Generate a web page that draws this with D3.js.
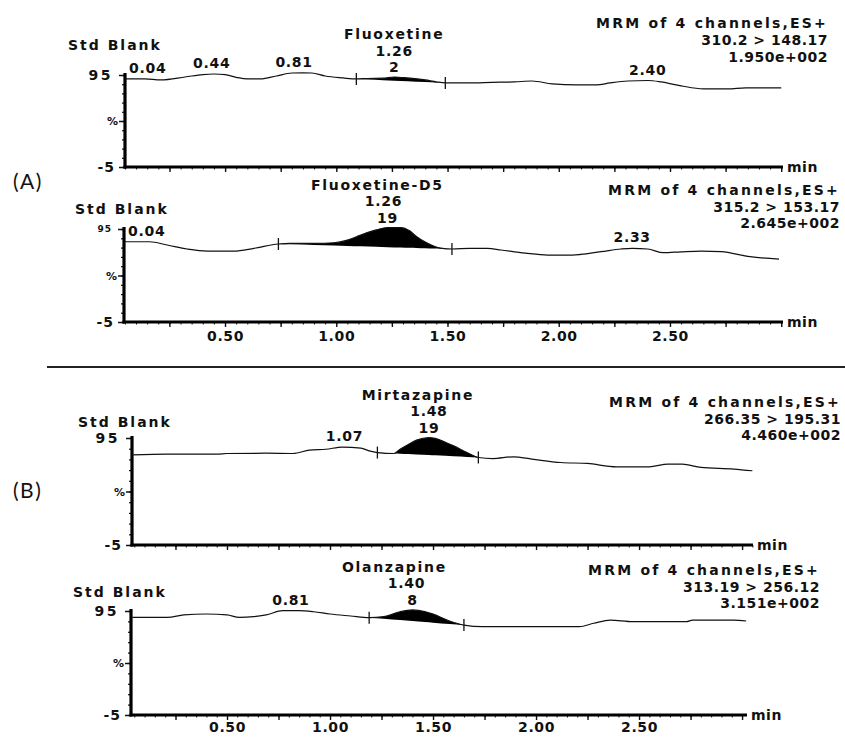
<!DOCTYPE html>
<html><head><meta charset="utf-8">
<script src="https://cdn.jsdelivr.net/npm/d3@7"></script>
<style>body{margin:0;background:#fff}svg{display:block}</style>
</head><body><svg id="chart" width="845" height="737"></svg>
<script>
// ---------- DATA ----------
const fluoxetineTime = [0.05,0.14,0.21,0.32,0.40,0.45,0.50,0.55,0.60,0.66,0.73,0.80,0.85,0.89,0.95,1.03,1.09,1.14,1.21,1.26,1.32,1.40,1.45,1.49,1.60,1.70,1.80,1.88,1.97,2.08,2.17,2.23,2.31,2.40,2.46,2.55,2.65,2.76,2.84,3.00];
const fluoxetineIntensity = [90.7,90.7,89.6,92.8,95.5,96.1,95.5,92.5,90.7,90.7,93.9,97.2,97.4,97.2,93.9,91.8,90.7,91.2,91.5,92.8,91.8,89.6,87.5,86.4,86.4,87,87.5,88.5,85.3,84.2,84.2,86.4,88.5,89,87.5,83.2,79.9,79.9,81,81];

const fluoxetineD5Time = [0.05,0.16,0.24,0.33,0.42,0.54,0.63,0.74,0.79,0.90,0.99,1.05,1.11,1.18,1.23,1.29,1.33,1.36,1.40,1.44,1.47,1.52,1.60,1.68,1.74,1.85,1.95,2.06,2.19,2.28,2.33,2.40,2.47,2.55,2.64,2.73,2.86,2.99];
const fluoxetineD5Intensity = [81.3,81.3,77.8,73.5,71.3,71.3,74.2,78.9,79.6,79.6,80.2,83,88.5,94,96.5,96.5,93,87,81,76.5,74.5,73.5,74.2,74.2,72.4,69,67,67,70.6,73.5,74.2,73.5,69.5,70.5,71.3,70.6,65.2,62.7];

const mirtazapineTime = [0.04,0.21,0.45,0.50,0.69,0.82,0.90,0.98,1.06,1.15,1.19,1.23,1.31,1.34,1.38,1.42,1.48,1.51,1.56,1.60,1.665,1.72,1.79,1.89,1.98,2.12,2.25,2.39,2.55,2.64,2.71,2.80,2.96,3.05];
const mirtazapineIntensity = [79.3,79.9,80,80.5,80.8,80.5,83.6,84.5,86.5,85.5,83,81.4,80.5,84.5,89,93,95.3,94.7,91,87.6,81.4,76.8,75.8,77.4,75.3,72.1,71.2,68.1,68.1,70.6,70.6,67.5,66,64.4];

const olanzapineTime = [0.04,0.21,0.29,0.40,0.50,0.56,0.63,0.69,0.77,0.85,0.92,1.00,1.10,1.19,1.26,1.34,1.40,1.46,1.50,1.58,1.65,1.74,2.00,2.21,2.28,2.36,2.47,2.73,2.76,2.96,3.02];
const olanzapineIntensity = [88.9,88.9,91.2,92.1,91.2,88.9,89.5,91.2,95.3,95.3,94.3,92.1,90.2,88.6,89.5,94.3,96,94.5,92,85.4,81.5,79.9,79.9,79.9,83.2,86.3,84.7,84.7,86.3,86.3,85.4];

const compoundNames = ["Fluoxetine","Fluoxetine-D5","Mirtazapine","Olanzapine"];
const retentionTimes = ["1.26","1.26","1.48","1.40"];
const peakAreas = ["2","19","19","8"];
const integrationStart = [1.09,0.74,1.23,1.19];
const integrationEnd = [1.49,1.52,1.72,1.65];
const channelHeader = ["MRM of 4 channels,ES+","MRM of 4 channels,ES+","MRM of 4 channels,ES+","MRM of 4 channels,ES+"];
const channelTransitions = ["310.2 > 148.17","315.2 > 153.17","266.35 > 195.31","313.19 > 256.12"];
const channelIntensity = ["1.950e+002","2.645e+002","4.460e+002","3.151e+002"];
const sampleNames = ["Std Blank","Std Blank","Std Blank","Std Blank"];
const otherPeakTimes = [[0.04,0.44,0.81,2.40],[0.04,2.33],[1.07],[0.81]];
const otherPeakLabels = [["0.04","0.44","0.81","2.40"],["0.04","2.33"],["1.07"],["0.81"]];
const xTickLabels = ["0.50","1.00","1.50","2.00","2.50"];
const yTickLabels = ["95","%","-5"];
const xUnit = "min";
const panelLetters = ["(A)","(B)"];

const traceTimes = [fluoxetineTime, fluoxetineD5Time, mirtazapineTime, olanzapineTime];
const traceValues = [fluoxetineIntensity, fluoxetineD5Intensity, mirtazapineIntensity, olanzapineIntensity];

// ---------- LAYOUT ----------
const layout = [
  {left:125,right:783,top:75,bottom:167,t0:0.05,t1:3.008,showX:false,blank:[68,50],mrm:[828,28,17],nameDx:0,rtDx:0,topSize:15,tickPad:4},
  {left:124,right:783,top:229,bottom:322,t0:0.046,t1:3.008,showX:true,blank:[75,214],mrm:[840,195,16.5],nameDx:-10,rtDx:-4,topSize:9,tickPad:4},
  {left:132,right:753,top:438,bottom:545,t0:0.039,t1:3.053,showX:false,blank:[78,427],mrm:[841,407,16.5],nameDx:-11,rtDx:0,topSize:15,tickPad:4},
  {left:131,right:747,top:611,bottom:715,t0:0.034,t1:3.024,showX:true,blank:[73,597],mrm:[820,575,16.5],nameDx:-18,rtDx:-6,topSize:15,tickPad:2.5}
];
const FONT = "'DejaVu Sans', 'Liberation Sans', Arial, sans-serif";
const FS = 14;

const svg = d3.select("#chart");
svg.append("rect").attr("width",845).attr("height",737).attr("fill","#fff");

// divider + panel letters
svg.append("line").attr("x1",47).attr("x2",845).attr("y1",367).attr("y2",367)
  .attr("stroke","#222").attr("stroke-width",2);
svg.selectAll("text.letter").data(panelLetters).join("text").attr("class","letter")
  .attr("x",13).attr("y",(d,i)=> i===0 ? 189 : 498)
  .attr("font-family","Lato, 'Open Sans', sans-serif").attr("font-size",21)
  .attr("letter-spacing",1.5).attr("fill","#111").text(d=>d);

layout.forEach((L, i) => {
  const g = svg.append("g");
  const times = traceTimes[i], vals = traceValues[i];
  const x = d3.scaleLinear().domain([L.t0, L.t1]).range([L.left, L.right]);
  const y = d3.scaleLinear().domain([-5, 95]).range([L.bottom, L.top]);
  const valueAt = d3.scaleLinear().domain(times).range(vals).clamp(true);

  // y axis ticks
  const yMinor = d3.range(-5, 96, 10);
  g.append("g").attr("transform",`translate(${L.left},0)`)
    .call(d3.axisLeft(y).tickValues(yMinor).tickSize(3).tickFormat(""))
    .call(s => s.select(".domain").remove())
    .call(s => s.selectAll("line").attr("stroke","#111").attr("stroke-width",1.2));
  g.append("g").attr("transform",`translate(${L.left},0)`)
    .call(d3.axisLeft(y).tickValues([-5,45,95]).tickSize(6).tickFormat(""))
    .call(s => s.select(".domain").remove())
    .call(s => s.selectAll("line").attr("stroke","#111").attr("stroke-width",1.5));

  // x axis ticks
  const minor = d3.range(Math.ceil(L.t0*20), Math.floor(L.t1*20)+1).map(k => k/20);
  const major = minor.filter(d => Math.abs(d*4 - Math.round(d*4)) < 1e-6);
  g.append("g").attr("transform",`translate(0,${L.bottom})`)
    .call(d3.axisBottom(x).tickValues(minor).tickSize(2.5).tickFormat(""))
    .call(s => s.select(".domain").remove())
    .call(s => s.selectAll("line").attr("stroke","#111").attr("stroke-width",1));
  const labelled = xTickLabels.map(Number);
  g.append("g").attr("transform",`translate(0,${L.bottom})`)
    .call(d3.axisBottom(x).tickValues(major).tickSize(5).tickPadding(L.tickPad)
      .tickFormat(d => {
        if (!L.showX) return "";
        const k = labelled.findIndex(v => Math.abs(v-d)<1e-6);
        return k>=0 ? xTickLabels[k] : "";
      }))
    .call(s => s.select(".domain").remove())
    .call(s => s.selectAll("line").attr("stroke","#111").attr("stroke-width",1.4))
    .call(s => s.selectAll("text").attr("font-family",FONT).attr("font-weight","bold")
      .attr("font-size",FS).attr("letter-spacing",0.6).attr("fill","#111"));

  // axis lines
  g.append("line").attr("x1",L.left).attr("x2",L.left).attr("y1",L.top-2).attr("y2",L.bottom+1.5)
    .attr("stroke","#000").attr("stroke-width",3.2);
  g.append("line").attr("x1",L.left-1.5).attr("x2",L.right).attr("y1",L.bottom).attr("y2",L.bottom)
    .attr("stroke","#000").attr("stroke-width",3);

  // y labels
  g.append("text").attr("x",L.left-12).attr("y",y(95)+(L.topSize>10?5:3)).attr("text-anchor","end")
    .attr("font-family",FONT).attr("font-weight","bold").attr("font-size",L.topSize>10?14:L.topSize)
    .attr("letter-spacing",L.topSize>10?2.5:1).attr("fill","#111").text(yTickLabels[0]);
  g.append("text").attr("x",L.left-7).attr("y",y(45)+4).attr("text-anchor","end")
    .attr("font-family",FONT).attr("font-weight","bold").attr("font-size",11)
    .attr("fill","#111").text(yTickLabels[1]);
  g.append("text").attr("x",L.left-10).attr("y",y(-5)+5).attr("text-anchor","end")
    .attr("font-family",FONT).attr("font-weight","bold").attr("font-size",FS)
    .attr("letter-spacing",1).attr("fill","#111").text(yTickLabels[2]);

  // x unit
  g.append("text").attr("x",L.right+4).attr("y",L.bottom+5)
    .attr("font-family",FONT).attr("font-weight","bold").attr("font-size",FS)
    .attr("letter-spacing",0.5).attr("fill","#111").text(xUnit);

  // peak fill
  const s0 = integrationStart[i], e0 = integrationEnd[i];
  const vs = valueAt(s0), ve = valueAt(e0);
  const base = t => vs + (ve - vs) * (t - s0) / (e0 - s0);
  const pk = [{t:s0,v:vs}].concat(times.map((t,k)=>({t,v:vals[k]})).filter(p=>p.t>s0 && p.t<e0)).concat([{t:e0,v:ve}]);
  g.append("path").datum(pk)
    .attr("d", d3.area().x(p=>x(p.t)).y0(p=>y(base(p.t))).y1(p=>y(p.v)).curve(d3.curveMonotoneX))
    .attr("fill","#000");

  // trace
  const pts = times.map((t,k)=>({t,v:vals[k]}));
  g.append("path").datum(pts)
    .attr("d", d3.line().x(p=>x(p.t)).y(p=>y(p.v)).curve(d3.curveMonotoneX))
    .attr("fill","none").attr("stroke","#111").attr("stroke-width",1.2);

  // integration markers
  [[s0,vs],[e0,ve]].forEach(([t,v]) => {
    g.append("line").attr("x1",x(t)).attr("x2",x(t)).attr("y1",y(v)-6).attr("y2",y(v)+6)
      .attr("stroke","#111").attr("stroke-width",1.3);
  });

  // peak label stack
  const apex = d3.max(pk, p=>p.v);
  const apexT = pk[d3.maxIndex(pk, p=>p.v)].t;
  const ax = x(apexT);
  const ay = y(apex) - 5;
  const lab = (txt, xx, yy, sp) => g.append("text").attr("x",xx).attr("y",yy).attr("text-anchor","middle")
    .attr("font-family",FONT).attr("font-weight","bold").attr("font-size",FS)
    .attr("letter-spacing",sp).attr("fill","#111").text(txt);
  lab(peakAreas[i], ax, ay, 0.7);
  lab(retentionTimes[i], ax + L.rtDx, ay - 16.5, 0.7);
  lab(compoundNames[i], ax + L.nameDx, ay - 33, 1.7);

  // other peak labels
  otherPeakTimes[i].forEach((t,k) => {
    const near = pts.filter(p => Math.abs(p.t - t) <= 0.05);
    const v = near.length ? d3.max(near, p=>p.v) : valueAt(t);
    const edge = x(t) < L.left + 20;
    g.append("text").attr("x", edge ? L.left + 4 : x(t)).attr("y", y(v) - 6)
      .attr("text-anchor", edge ? "start" : "middle")
      .attr("font-family",FONT).attr("font-weight","bold").attr("font-size",FS)
      .attr("letter-spacing",0.7).attr("fill","#111").text(otherPeakLabels[i][k]);
  });

  // headers
  g.append("text").attr("x",L.blank[0]).attr("y",L.blank[1])
    .attr("font-family",FONT).attr("font-weight","bold").attr("font-size",FS)
    .attr("letter-spacing",2).attr("fill","#111").text(sampleNames[i]);
  [channelHeader[i], channelTransitions[i], channelIntensity[i]].forEach((txt,k) => {
    g.append("text").attr("x",L.mrm[0]).attr("y",L.mrm[1] + k*L.mrm[2]).attr("text-anchor","end")
      .attr("font-family",FONT).attr("font-weight","bold").attr("font-size",FS)
      .attr("letter-spacing",k===0?2.2:0.5).attr("fill","#111").text(txt);
  });
});
</script></body></html>
